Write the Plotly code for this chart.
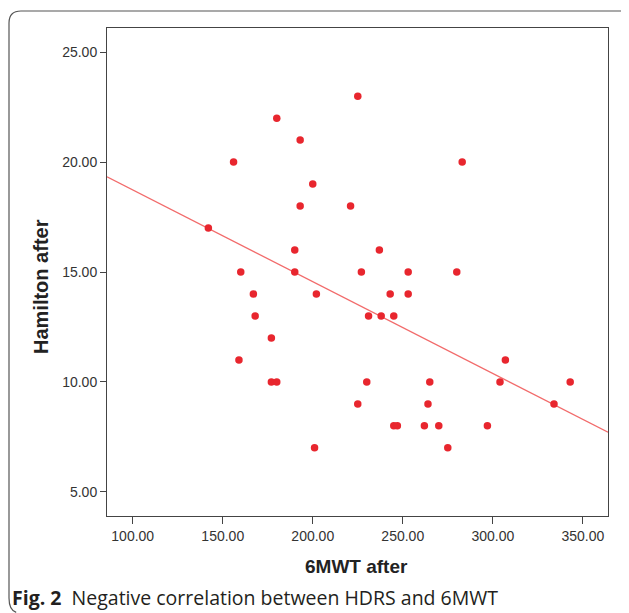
import plotly.graph_objects as go

# Data (6MWT after vs Hamilton after)
six_mwt = [142, 156, 159, 160, 167, 168, 177, 177, 180, 180, 190, 190, 193, 193, 200,
           201, 202, 221, 225, 225, 227, 230, 231, 237, 238, 243, 245, 245, 247, 253,
           253, 262, 264, 265, 270, 275, 280, 283, 297, 304, 307, 334, 343]
hamilton = [17, 20, 11, 15, 14, 13, 12, 10, 10, 22, 16, 15, 21, 18, 19,
            7, 14, 18, 23, 9, 15, 10, 13, 16, 13, 14, 13, 8, 8, 15,
            14, 8, 9, 10, 8, 7, 15, 20, 8, 10, 11, 9, 10]
# Fit line as drawn in the reference
fit_intercept = 22.91
fit_slope = -0.04175
x_ticks = [100, 150, 200, 250, 300, 350]
y_ticks = [5, 10, 15, 20, 25]
x_title = "6MWT after"
y_title = "Hamilton after"
caption = "<b>Fig. 2</b>  Negative correlation between HDRS and 6MWT"

X_RANGE = [85.7, 364.0]
Y_RANGE = [3.9, 26.1]

# The page body has an 8px margin: lay out in page pixels, offset by it.
OFF = 8
W, H = 629 - OFF, 613 - OFF
L, R, T, B = 107 - OFF, 21, 28 - OFF, 97
PW, PH = W - L - R, H - T - B


def xp(px):
    return (px - OFF - L) / PW


def yp(py):
    return (H - B - (py - OFF)) / PH


fit_x = X_RANGE
fit_y = [fit_intercept + fit_slope * v for v in fit_x]

fig = go.Figure()
fig.add_trace(go.Scatter(x=fit_x, y=fit_y, mode="lines",
                         line=dict(color="#f26b6b", width=1.3),
                         hoverinfo="skip", showlegend=False))
fig.add_trace(go.Scatter(x=six_mwt, y=hamilton, mode="markers",
                         marker=dict(color="#e8262e", size=7.5, line=dict(width=0)),
                         showlegend=False))

tick_font = dict(family="Liberation Sans, Arial, sans-serif", size=14, color="#333")

fig.update_xaxes(range=X_RANGE, tickvals=x_ticks,
                 ticktext=[f"{v:.2f}" for v in x_ticks],
                 showgrid=False, zeroline=False, showline=True, mirror=True,
                 linecolor="#444", linewidth=1, ticks="outside", ticklen=7,
                 tickcolor="#444", tickfont=tick_font)
fig.update_yaxes(range=Y_RANGE, tickvals=y_ticks,
                 ticktext=[f"{v:.2f}" for v in y_ticks],
                 showgrid=False, zeroline=False, showline=True, mirror=True,
                 linecolor="#444", linewidth=1, ticks="outside", ticklen=6,
                 tickcolor="#444", tickfont=tick_font)

annotations = [
    dict(text=f"<b>{y_title}</b>", x=xp(41), y=yp(287), xref="paper", yref="paper",
         textangle=-90, showarrow=False, xanchor="center", yanchor="middle",
         font=dict(family="Liberation Sans, Arial, sans-serif", size=20, color="#222")),
    dict(text=f"<b>{x_title}</b>", x=xp(356), y=yp(566), xref="paper", yref="paper",
         showarrow=False, xanchor="center", yanchor="middle",
         font=dict(family="Liberation Sans, Arial, sans-serif", size=19, color="#222")),
    dict(text=caption, x=xp(10), y=yp(597), xref="paper", yref="paper",
         showarrow=False, xanchor="left", yanchor="middle",
         font=dict(family="Open Sans, Noto Sans, sans-serif", size=19.5, color="#231f20")),
]

# Rounded outer border (partially visible, cropped on right and bottom)
x0, x1 = xp(9), xp(634)
y0, y1 = yp(11), yp(610)
rx = 12 / PW
ry = 12 / PH
border_path = (f"M {x0},{y1 + ry} L {x0},{y0 - ry} Q {x0},{y0} {x0 + rx},{y0} "
               f"L {x1 - rx},{y0} Q {x1},{y0} {x1},{y0 - ry} "
               f"M {x0},{y1 + ry} Q {x0},{y1} {x0 + rx * 0.6},{y1 - ry * 0.2}")
shapes = [dict(type="path", path=border_path, xref="paper", yref="paper",
               line=dict(color="#555", width=1.2), layer="above")]

fig.update_layout(width=W, height=H, margin=dict(l=L, r=R, t=T, b=B),
                  paper_bgcolor="white", plot_bgcolor="white",
                  annotations=annotations, shapes=shapes, showlegend=False)

fig.write_html("out.html")
